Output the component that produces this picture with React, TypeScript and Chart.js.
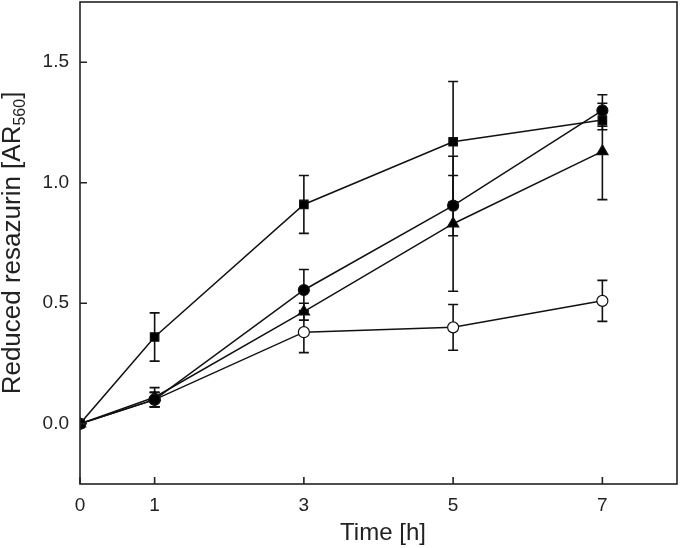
import React, { useEffect, useRef } from "react";
import { Chart, registerables } from "chart.js";

Chart.register(...registerables);

const timePoints = [0, 1, 3, 5, 7];
const xTicks = [0, 1, 3, 5, 7];
const yTicks = [0, 0.5, 1.0, 1.5];

const squareMean = [0, 0.36, 0.91, 1.17, 1.26];
const squareErr = [0, 0.1, 0.12, 0.25, 0.04];
const circleMean = [0, 0.1, 0.555, 0.905, 1.3];
const circleErr = [0, 0.03, 0.085, 0.125, 0.065];
const triangleMean = [0, 0.11, 0.465, 0.83, 1.13];
const triangleErr = [0, 0.04, 0.035, 0.28, 0.2];
const openMean = [0, 0.1, 0.38, 0.4, 0.51];
const openErr = [0, 0.03, 0.085, 0.095, 0.085];

const FONT = "'Liberation Sans', Arial, sans-serif";

const toPoints = (m: number[]) => timePoints.map((t, i) => ({ x: t, y: m[i] }));

const errorBarPlugin = {
  id: "errorBars",
  beforeDatasetsDraw(chart: any) {
    const ctx = chart.ctx;
    const yScale = chart.scales.y;
    ctx.save();
    ctx.strokeStyle = "#111";
    ctx.lineWidth = 1.6;
    chart.data.datasets.forEach((ds: any, di: number) => {
      const meta = chart.getDatasetMeta(di);
      const errs: number[] = ds.errors || [];
      meta.data.forEach((el: any, i: number) => {
        const e = errs[i];
        if (!e) return;
        const v = ds.data[i].y;
        const x = el.x;
        const yt = yScale.getPixelForValue(v + e);
        const yb = yScale.getPixelForValue(v - e);
        ctx.beginPath();
        ctx.moveTo(x, yt);
        ctx.lineTo(x, yb);
        ctx.moveTo(x - 5, yt);
        ctx.lineTo(x + 5, yt);
        ctx.moveTo(x - 5, yb);
        ctx.lineTo(x + 5, yb);
        ctx.stroke();
      });
    });
    ctx.restore();
  },
};

const framePlugin = {
  id: "frame",
  afterDraw(chart: any) {
    const ctx = chart.ctx;
    const a = chart.chartArea;
    const xs = chart.scales.x;
    const ys = chart.scales.y;
    ctx.save();
    ctx.strokeStyle = "#222";
    ctx.lineWidth = 1.6;
    ctx.strokeRect(a.left, a.top, a.right - a.left, a.bottom - a.top);
    ctx.beginPath();
    xTicks.forEach((t) => {
      const px = xs.getPixelForValue(t);
      ctx.moveTo(px, a.bottom);
      ctx.lineTo(px, a.bottom - 7);
    });
    yTicks.forEach((t) => {
      const py = ys.getPixelForValue(t);
      ctx.moveTo(a.left, py);
      ctx.lineTo(a.left + 7, py);
    });
    ctx.stroke();

    ctx.fillStyle = "#222";
    ctx.textBaseline = "middle";
    ctx.textAlign = "center";
    ctx.font = `24px ${FONT}`;
    ctx.fillText("Time [h]", 383, 533);

    // y title with subscript
    const main = "Reduced resazurin [AR";
    const sub = "560";
    const end = "]";
    ctx.translate(12, 243);
    ctx.rotate(-Math.PI / 2);
    ctx.font = `26px ${FONT}`;
    const w1 = ctx.measureText(main).width;
    const w3 = ctx.measureText(end).width;
    ctx.font = `16px ${FONT}`;
    const w2 = ctx.measureText(sub).width;
    const total = w1 + w2 + w3;
    const x0 = -total / 2;
    ctx.textAlign = "left";
    ctx.textBaseline = "alphabetic";
    ctx.font = `26px ${FONT}`;
    ctx.fillText(main, x0, 8);
    ctx.font = `16px ${FONT}`;
    ctx.fillText(sub, x0 + w1, 13);
    ctx.font = `26px ${FONT}`;
    ctx.fillText(end, x0 + w1 + w2, 8);
    ctx.restore();
  },
};

export default function App() {
  const ref = useRef<HTMLCanvasElement | null>(null);
  useEffect(() => {
    document.body.style.margin = "0";
    const common = {
      borderColor: "#111",
      borderWidth: 1.5,
      showLine: true,
      pointBorderColor: "#111",
      pointBorderWidth: 1.2,
    };
    const chart = new Chart(ref.current as HTMLCanvasElement, {
      type: "scatter",
      data: {
        datasets: [
          {
            ...common,
            label: "square",
            data: toPoints(squareMean),
            errors: squareErr,
            pointStyle: "rect",
            pointRadius: 6,
            pointBackgroundColor: "#000",
          } as any,
          {
            ...common,
            label: "circle",
            data: toPoints(circleMean),
            errors: circleErr,
            pointStyle: "circle",
            pointRadius: 5.5,
            pointBackgroundColor: "#000",
          } as any,
          {
            ...common,
            label: "triangle",
            data: toPoints(triangleMean),
            errors: triangleErr,
            pointStyle: "triangle",
            pointRadius: 6.5,
            pointBackgroundColor: "#000",
          } as any,
          {
            ...common,
            label: "open circle",
            data: toPoints(openMean),
            errors: openErr,
            pointStyle: "circle",
            pointRadius: 5.5,
            pointBackgroundColor: "#fff",
          } as any,
        ],
      },
      options: {
        animation: false,
        responsive: false,
        maintainAspectRatio: false,
        layout: { autoPadding: false, padding: { left: 0, right: 3, top: 2, bottom: 0 } },
        plugins: { legend: { display: false }, tooltip: { enabled: false } },
        scales: {
          x: {
            type: "linear",
            min: 0,
            max: 8,
            grid: { display: false, drawTicks: false },
            border: { display: false },
            afterBuildTicks: (s: any) => {
              s.ticks = xTicks.map((v) => ({ value: v }));
            },
            afterFit: (s: any) => {
              s.height = 64;
              s.paddingLeft = 0;
              s.paddingRight = 0;
            },
            ticks: {
              padding: 10,
              color: "#222",
              font: { family: FONT, size: 19 },
              callback: (v: any) => String(v),
            },
          },
          y: {
            type: "linear",
            min: -0.25,
            max: 1.75,
            grid: { display: false, drawTicks: false },
            border: { display: false },
            afterBuildTicks: (s: any) => {
              s.ticks = yTicks.map((v) => ({ value: v }));
            },
            afterFit: (s: any) => {
              s.width = 80;
              s.paddingTop = 0;
              s.paddingBottom = 0;
            },
            ticks: {
              padding: 11,
              color: "#222",
              font: { family: FONT, size: 19 },
              callback: (v: any) => Number(v).toFixed(1),
            },
          },
        },
      } as any,
      plugins: [errorBarPlugin, framePlugin],
    });
    return () => chart.destroy();
  }, []);
  return (
    <div style={{ position: "absolute", left: 0, top: 0, width: 680, height: 548 }}>
      <canvas ref={ref} width={680} height={548} style={{ width: 680, height: 548 }} />
    </div>
  );
}
